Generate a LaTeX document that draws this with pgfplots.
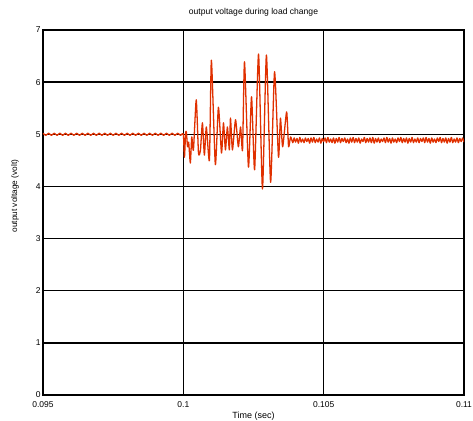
\documentclass[border=0pt]{standalone}
\usepackage{fontspec}
\setmainfont{Liberation Sans}
\usepackage{pgfplots}
\pgfplotsset{compat=1.18}
\definecolor{curve}{RGB}{224,48,0}
\begin{document}
\begin{tikzpicture}[x=1bp,y=1bp]
\useasboundingbox (-43bp,-26bp) rectangle (430bp,395bp);
\begin{axis}[
  at={(0,0)}, anchor=south west,
  width=421bp, height=365bp, scale only axis,
  xmin=0.095, xmax=0.11, ymin=0, ymax=7,
  xtick={0.095,0.1,0.105,0.11},
  xticklabels={0.095,0.1,0.105,0.11},
  ytick={0,1,2,3,4,5,6,7},
  grid=major,
  major grid style={black, line width=1.3pt},
  axis line style={black, line width=1.5pt},
  tick style={black, line width=0.6pt},
  tick align=inside, major tick length=3bp,
  xtick pos=left, ytick pos=left,
  tick label style={font=\fontsize{8.5}{9}\selectfont},
  xticklabel style={anchor=center, yshift=-10bp},
  yticklabel style={anchor=east, xshift=1bp},
  /pgf/number format/assume math mode=true,
  title={output voltage during load change},
  title style={font=\fontsize{8.6}{9}\selectfont, at={(axis description cs:0.5,1)}, anchor=center, yshift=12bp},
  xlabel={Time (sec)},
  ylabel={output voltage (volt)},
  xlabel style={font=\fontsize{9}{10}\selectfont, at={(axis description cs:0.5,0)}, anchor=center, yshift=-21bp},
  ylabel style={font=\fontsize{8.3}{10}\selectfont, at={(axis description cs:0,0.545)}, anchor=center, yshift=28bp},
  clip=true,
]
\addplot[curve, line width=1.3pt, line join=round, smooth, tension=0.35] coordinates {
(0.0950,5.02)(0.0951,4.98)(0.0952,5.02)(0.0953,4.98)(0.0954,5.02)(0.0955,4.98)(0.0956,5.02)(0.0957,4.98)(0.0958,5.02)(0.0959,4.98)
(0.0960,5.02)(0.0961,4.98)(0.0962,5.02)(0.0963,4.98)(0.0964,5.02)(0.0965,4.98)(0.0966,5.02)(0.0967,4.98)(0.0968,5.02)(0.0969,4.98)
(0.0970,5.02)(0.0971,4.98)(0.0972,5.02)(0.0973,4.98)(0.0974,5.02)(0.0975,4.98)(0.0976,5.02)(0.0977,4.98)(0.0978,5.02)(0.0979,4.98)
(0.0980,5.02)(0.0981,4.98)(0.0982,5.02)(0.0983,4.98)(0.0984,5.02)(0.0985,4.98)(0.0986,5.02)(0.0987,4.98)(0.0988,5.02)(0.0989,4.98)
(0.0990,5.02)(0.0991,4.98)(0.0992,5.02)(0.0993,4.98)(0.0994,5.02)(0.0995,4.98)(0.0996,5.02)(0.0997,4.98)(0.0998,5.02)(0.0999,4.98)
(0.10000,5.00)(0.10004,4.56)(0.10008,5.02)(0.10011,5.04)(0.10015,4.76)(0.10019,4.85)(0.10025,4.45)
(0.10030,4.95)(0.10036,4.70)(0.10046,5.66)(0.10054,4.64)(0.10061,4.70)(0.10068,5.22)(0.10075,4.60)
(0.10082,5.14)(0.10093,4.50)(0.10100,6.42)(0.10114,4.42)(0.10125,5.52)(0.10136,4.64)(0.10143,5.22)
(0.10150,4.70)(0.10157,5.14)(0.10164,4.70)(0.10168,5.31)(0.10175,4.70)(0.10186,5.28)(0.10196,4.76)
(0.10204,5.14)(0.10211,4.70)(0.10218,6.39)(0.10232,4.37)(0.10243,5.72)(0.10254,4.32)(0.10268,6.54)
(0.10282,3.95)(0.10296,6.52)(0.10311,4.08)(0.10325,6.20)(0.10339,4.56)(0.10346,5.31)(0.10354,4.76)
(0.10368,5.43)(0.10375,4.76)(0.10382,4.95)
(0.10390,4.84)(0.10395,4.93)(0.10400,4.85)(0.10405,4.92)(0.10410,4.83)(0.10415,4.94)(0.10420,4.85)(0.10425,4.91)
(0.10430,4.84)(0.10435,4.93)(0.10440,4.86)(0.10445,4.92)(0.10450,4.83)(0.10455,4.93)(0.10460,4.85)(0.10465,4.94)
(0.10470,4.84)(0.10475,4.91)(0.10480,4.85)(0.10485,4.93)(0.10490,4.83)(0.10495,4.92)(0.10500,4.86)(0.10505,4.93)
(0.10510,4.84)(0.10515,4.94)(0.10520,4.85)(0.10525,4.91)(0.10530,4.84)(0.10535,4.93)(0.10540,4.83)(0.10545,4.92)
(0.10550,4.85)(0.10555,4.94)(0.10560,4.84)(0.10565,4.92)(0.10570,4.86)(0.10575,4.93)(0.10580,4.84)(0.10585,4.91)
(0.10590,4.83)(0.10595,4.93)(0.10600,4.85)(0.10605,4.94)(0.10610,4.84)(0.10615,4.92)(0.10620,4.85)(0.10625,4.93)
(0.10630,4.83)(0.10635,4.91)(0.10640,4.86)(0.10645,4.94)(0.10650,4.84)(0.10655,4.92)(0.10660,4.85)(0.10665,4.93)
(0.10670,4.84)(0.10675,4.94)(0.10680,4.83)(0.10685,4.92)(0.10690,4.85)(0.10695,4.93)(0.10700,4.84)(0.10705,4.91)
(0.10710,4.86)(0.10715,4.93)(0.10720,4.84)(0.10725,4.94)(0.10730,4.85)(0.10735,4.92)(0.10740,4.83)(0.10745,4.93)
(0.10750,4.85)(0.10755,4.91)(0.10760,4.84)(0.10765,4.93)(0.10770,4.86)(0.10775,4.94)(0.10780,4.84)(0.10785,4.92)
(0.10790,4.85)(0.10795,4.93)(0.10800,4.83)(0.10805,4.92)(0.10810,4.85)(0.10815,4.94)(0.10820,4.84)(0.10825,4.91)
(0.10830,4.85)(0.10835,4.93)(0.10840,4.84)(0.10845,4.92)(0.10850,4.86)(0.10855,4.93)(0.10860,4.84)(0.10865,4.94)
(0.10870,4.85)(0.10875,4.92)(0.10880,4.83)(0.10885,4.93)(0.10890,4.85)(0.10895,4.91)(0.10900,4.84)(0.10905,4.93)
(0.10910,4.86)(0.10915,4.94)(0.10920,4.84)(0.10925,4.92)(0.10930,4.85)(0.10935,4.93)(0.10940,4.83)(0.10945,4.92)
(0.10950,4.85)(0.10955,4.94)(0.10960,4.84)(0.10965,4.91)(0.10970,4.85)(0.10975,4.93)(0.10980,4.84)(0.10985,4.92)
(0.10990,4.86)(0.10995,4.93)(0.11000,4.85)
};
\end{axis}
\end{tikzpicture}
\end{document}
